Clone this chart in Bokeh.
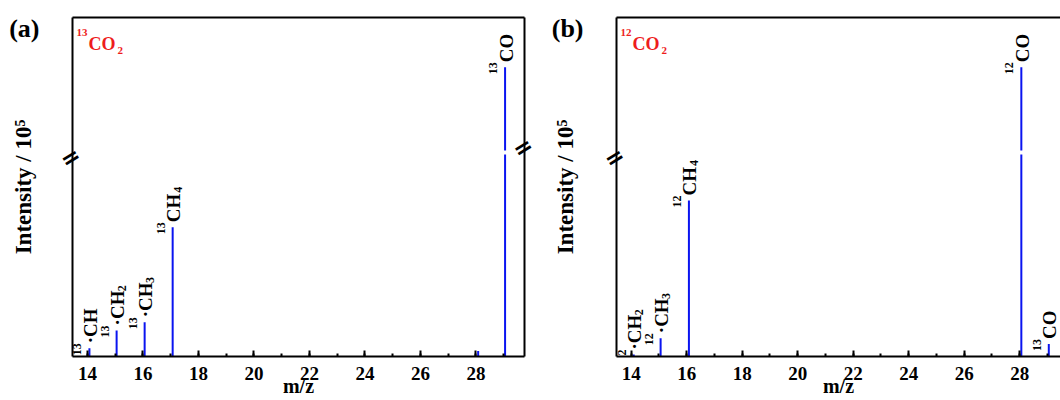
import math
from bokeh.plotting import figure
from bokeh.layouts import row
from bokeh.models import Range1d, LinearAxis, FixedTicker, SingleIntervalTicker, Title
from bokeh.core.properties import value
from bokeh.embed import file_html
from bokeh.resources import INLINE

# ---------------- data ----------------
mz_a = [14.07, 15.05, 16.06, 17.07, 28.08, 29.05]
int_a = [2.4, 7.7, 10.1, 38.1, 1.6, 85.3]
iso_a = ["13", "13", "13", "13", "", "13"]
dot_a = [True, True, True, False, False, False]
frag_a = ["CH", "CH", "CH", "CH", "", "CO"]
sub_a = ["", "2", "3", "4", "", ""]

mz_b = [14.09, 15.06, 16.08, 28.06, 29.05]
int_b = [0.6, 5.4, 46.0, 85.3, 3.7]
iso_b = ["12", "12", "12", "12", "13"]
dot_b = [True, True, False, False, False]
frag_b = ["CH", "CH", "CH", "CO", "CO"]
sub_b = ["2", "3", "4", "", ""]

gas_a = ("13", "CO", "2")
gas_b = ("12", "CO", "2")
panel_a = "(a)"
panel_b = "(b)"
x_label = "m/z"
y_label = "Intensity / 10\u2075"
y_break = 60.2
break_mark = "="

# ---------------- style ----------------
FONT = "Liberation Serif"
BLUE = "#0a14f0"
RED = "#ee1c1c"
X_START_A, X_END_A = 13.46, 29.75
X_START_B = 13.47
Y_START, Y_END = 0, 100
FRAME_W_A = 452
FRAME_H = 339
PX_X = (X_END_A - X_START_A) / FRAME_W_A
PX_Y = (Y_END - Y_START) / FRAME_H
WID = {"C": 0.722, "H": 0.778, "O": 0.778, "\u00b7": 0.25}
PANEL_TAG_Y = Y_END - 11 * PX_Y


def plain_axis(ax):
    ax.axis_line_width = 2
    ax.axis_line_color = "black"
    ax.major_tick_line_color = None
    ax.minor_tick_line_color = None


def break_axis(standoff):
    ax = LinearAxis(ticker=FixedTicker(ticks=[y_break]),
                    major_label_overrides={y_break: break_mark})
    plain_axis(ax)
    ax.major_label_orientation = 0.55
    ax.major_label_standoff = standoff
    ax.major_label_text_font = "DejaVu Sans"
    ax.major_label_text_font_style = "bold"
    ax.major_label_text_font_size = "23px"
    ax.major_label_text_color = "black"
    return ax


def make_fig(width, left, right, x_start, x_end, tag, tag_standoff, label_standoff):
    p = figure(width=width, height=400, output_backend="svg", toolbar_location=None,
               x_range=Range1d(x_start, x_end), y_range=Range1d(Y_START, Y_END),
               min_border_left=left, min_border_right=right, min_border_top=17,
               min_border_bottom=44, y_axis_location=None)
    p.grid.visible = False
    p.outline_line_color = None
    p.background_fill_color = "white"
    p.border_fill_color = "white"
    xa = p.xaxis[0]
    xa.ticker = SingleIntervalTicker(interval=2, num_minor_ticks=2)
    xa.axis_line_width = 2
    xa.axis_line_color = "black"
    xa.major_tick_in = 6
    xa.major_tick_out = 0
    xa.minor_tick_in = 3
    xa.minor_tick_out = 0
    xa.major_tick_line_width = 2
    xa.minor_tick_line_width = 2
    xa.major_tick_line_color = "black"
    xa.minor_tick_line_color = "black"
    xa.major_label_text_font = FONT
    xa.major_label_text_font_size = "19px"
    xa.major_label_text_font_style = "bold"
    xa.major_label_text_color = "black"
    xa.major_label_standoff = 10

    xt = Title(text=x_label, align="center", vertical_align="bottom", standoff=-20,
               text_font=FONT, text_font_size="20px", text_font_style="bold",
               text_color="black")
    p.add_layout(xt, "below")

    # left: axis line with break mark (nearest the frame)
    p.add_layout(break_axis(-12), "left")
    # left: panel tag and y label, no line
    ta = LinearAxis(ticker=FixedTicker(ticks=[PANEL_TAG_Y]),
                    major_label_overrides={PANEL_TAG_Y: tag})
    ta.axis_line_color = None
    ta.major_tick_line_color = None
    ta.minor_tick_line_color = None
    ta.major_label_standoff = tag_standoff
    ta.major_label_text_font = FONT
    ta.major_label_text_font_size = "26px"
    ta.major_label_text_font_style = "bold"
    ta.major_label_text_color = "black"
    ta.axis_label = y_label
    ta.axis_label_text_font = FONT
    ta.axis_label_text_font_size = "23px"
    ta.axis_label_text_font_style = "bold"
    ta.axis_label_text_color = "black"
    ta.axis_label_standoff = label_standoff
    p.add_layout(ta, "left")

    top = LinearAxis(ticker=FixedTicker(ticks=[]), major_label_text_font_size="0px",
                     major_label_standoff=0)
    plain_axis(top)
    p.add_layout(top, "above")
    return p


def draw_bars(p, mz, h):
    gap = 2 * PX_Y
    x0, y0, y1 = [], [], []
    for x, v in zip(mz, h):
        if v > y_break:
            x0 += [x, x]
            y0 += [0, y_break + gap]
            y1 += [y_break - gap, v]
        else:
            x0.append(x)
            y0.append(0)
            y1.append(v)
    p.segment(x0=x0, y0=y0, x1=x0, y1=y1, line_color=BLUE, line_width=2)


def txt(p, x, y, s, size, dx, dy, align, angle=0.0, color="black", baseline="alphabetic"):
    p.text(x=[x], y=[y], text=[s], angle=angle, x_offset=dx, y_offset=dy,
           text_align=align, text_baseline=baseline, text_font=value(FONT),
           text_font_size=f"{size}px", text_font_style="bold", text_color=color)


def peak_labels(p, mz, h, iso, dot, frag, sub):
    MAIN = 19
    SMALL = 12
    bx = 1
    lift = -5
    for x, v, i, d, f, s in zip(mz, h, iso, dot, frag, sub):
        if not f:
            continue
        main = ("\u00b7" if d else "") + f
        w = sum(WID.get(c, 0.6) for c in main) * MAIN
        a = math.pi / 2
        txt(p, x, v, main, MAIN, bx, lift, "left", a)
        if i:
            txt(p, x, v, i, SMALL, bx - 13, lift, "right", a)
        if s:
            txt(p, x, v, s, SMALL, bx + 4, lift - w - 1, "left", a)


def gas_label(p, x_start, g):
    iso, core, sub = g
    w = sum(WID.get(c, 0.6) for c in core) * 18
    txt(p, x_start, Y_END, core, 18, 16, 26, "left", color=RED)
    txt(p, x_start, Y_END, iso, 11, 15, 15, "right", color=RED)
    txt(p, x_start, Y_END, sub, 11, 16 + w + 2, 33, "left", color=RED)


# ---------------- panel (a) ----------------
pa = make_fig(549, 72, 25, X_START_A, X_END_A, panel_a, 0, -30)
pa.add_layout(break_axis(-16), "right")
draw_bars(pa, mz_a, int_a)
peak_labels(pa, mz_a, int_a, iso_a, dot_a, frag_a, sub_a)
gas_label(pa, X_START_A, gas_a)

# ---------------- panel (b) ----------------
frame_w_b = 511 - 67
X_END_B = X_START_B + frame_w_b * PX_X
pb = make_fig(511, 67, 0, X_START_B, X_END_B, panel_b, 0, -29)
draw_bars(pb, mz_b, int_b)
peak_labels(pb, mz_b, int_b, iso_b, dot_b, frag_b, sub_b)
gas_label(pb, X_START_B, gas_b)

layout = row(pa, pb)
open("out.html", "w").write(file_html(layout, INLINE))
